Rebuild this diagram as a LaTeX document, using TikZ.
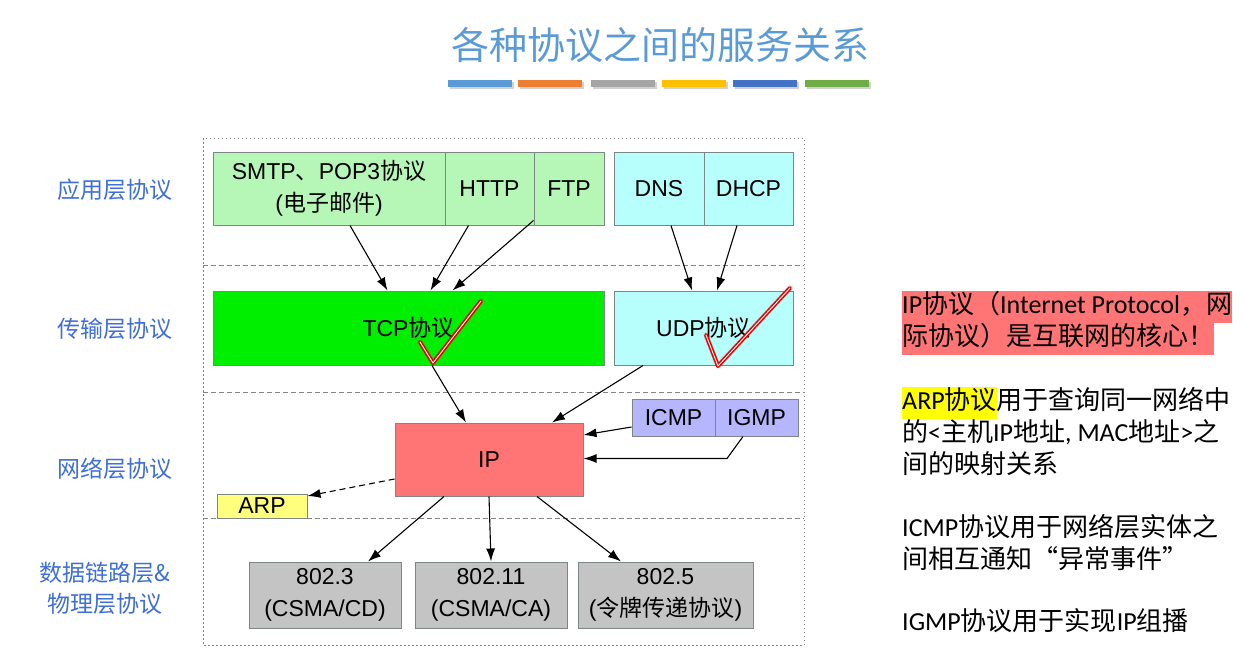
\documentclass[tikz,border=0pt]{standalone}
\usepackage{fontspec}
\setmainfont{Liberation Sans}
\newfontfamily\cjk{Noto Sans CJK SC}
\newfontfamily\notefont{Carlito}
\usetikzlibrary{arrows.meta}
\definecolor{titleblue}{RGB}{91,155,213}
\definecolor{layerblue}{RGB}{62,110,214}
\definecolor{appgreen}{RGB}{182,246,182}
\definecolor{tcpgreen}{RGB}{0,238,0}
\definecolor{udpcyan}{RGB}{182,255,252}
\definecolor{ipred}{RGB}{255,117,117}
\definecolor{icmpblue}{RGB}{182,182,255}
\definecolor{arpyellow}{RGB}{255,255,125}
\definecolor{linkgray}{RGB}{196,196,196}
\definecolor{edgegray}{RGB}{125,135,135}
\definecolor{framegray}{RGB}{130,130,130}
\definecolor{hlyellow}{RGB}{255,255,0}
\definecolor{barA}{RGB}{91,155,213}
\definecolor{barB}{RGB}{237,125,49}
\definecolor{barC}{RGB}{165,165,165}
\definecolor{barD}{RGB}{255,192,0}
\definecolor{barE}{RGB}{68,114,196}
\definecolor{barF}{RGB}{112,173,71}
\setlength{\fboxsep}{0pt}
\newcommand{\zh}[1]{{\cjk #1}}
\tikzset{protobox/.style={draw=edgegray,line width=1pt,inner sep=0pt,align=center,font=\fontsize{23}{32}\selectfont}}

\begin{document}
\begin{tikzpicture}[x=1pt,y=-1pt,>={Latex[length=13pt,width=9pt]},
    flow/.style={->,line width=1.1pt},
    layerlabel/.style={text=layerblue,align=center,font=\cjk\fontsize{23}{31}\selectfont},
    note/.style={inner sep=0pt,align=left,anchor=north west,font=\notefont\fontsize{26}{32}\selectfont},
    tick/.style={draw=red!90!black,double=white,double distance=0.9pt,line width=1.5pt,line cap=round,line join=round}]
    \useasboundingbox (0,0) rectangle (1245,654);

    % title and colour bars
    \node[text=titleblue,font=\cjk\fontsize{38}{44}\selectfont] (title) at (660,45) {各种协议之间的服务关系};
    \foreach \x/\c in {448/barA,518/barB,591/barC,662/barD,733/barE,805/barF} {
      \fill[black!18] (\x+1.5,82) rectangle ++(64,7);
      \fill[\c] (\x,80) rectangle ++(64,7);
    }

    % layer frame
    \draw[framegray,line width=1pt,dash pattern=on 1.5pt off 2.5pt] (203,138) rectangle (804,645);
    \foreach \y in {265,392,518}
      \draw[framegray,line width=1pt,dash pattern=on 5pt off 3pt] (203,\y) -- (804,\y);

    \node[layerlabel] (lapp) at (115,190) {应用层协议};
    \node[layerlabel] (ltrans) at (115,329) {传输层协议};
    \node[layerlabel] (lnet) at (115,469) {网络层协议};
    \node[layerlabel] (llink) at (105,588) {数据链路层\&\\物理层协议};

    % application layer
    \node[protobox,fill=appgreen,minimum width=232pt,minimum height=73pt] (smtp) at (329,188.5) {SMTP\zh{、}POP3\zh{协议}\\(\zh{电子邮件})};
    \node[protobox,fill=appgreen,minimum width=89pt,minimum height=73pt] (http) at (489.5,188.5) {HTTP};
    \node[protobox,fill=appgreen,minimum width=70pt,minimum height=73pt] (ftp) at (569,188.5) {FTP};
    \node[protobox,fill=udpcyan,minimum width=90pt,minimum height=73pt] (dns) at (659,188.5) {DNS};
    \node[protobox,fill=udpcyan,minimum width=89pt,minimum height=73pt] (dhcp) at (748.5,188.5) {DHCP};

    % transport layer
    \node[protobox,fill=tcpgreen,minimum width=391pt,minimum height=74pt] (tcp) at (408.5,328) {TCP\zh{协议}};
    \node[protobox,fill=udpcyan,minimum width=179pt,minimum height=74pt] (udp) at (703.5,328) {UDP\zh{协议}};

    % network layer
    \node[protobox,fill=ipred,minimum width=188pt,minimum height=73pt] (ip) at (489,459.5) {IP};
    \node[protobox,fill=icmpblue,minimum width=83pt,minimum height=37pt] (icmp) at (673.5,417.5) {ICMP};
    \node[protobox,fill=icmpblue,minimum width=83pt,minimum height=37pt] (igmp) at (756.5,417.5) {IGMP};
    \node[protobox,fill=arpyellow,minimum width=90pt,minimum height=24pt] (arp) at (262,506) {ARP};

    % link layer
    \node[protobox,fill=linkgray,minimum width=152pt,minimum height=66pt] (l1) at (325,595) {802.3\\(CSMA/CD)};
    \node[protobox,fill=linkgray,minimum width=152pt,minimum height=66pt] (l2) at (491,595) {802.11\\(CSMA/CA)};
    \node[protobox,fill=linkgray,minimum width=175pt,minimum height=66pt] (l3) at (665.5,595) {802.5\\(\zh{令牌传递协议})};

    \draw[flow] ([xshift=21pt]smtp.south) -- ([xshift=-21pt]tcp.north);
    \draw[flow] ([xshift=-21pt]http.south) -- ([xshift=22pt]tcp.north);
    \draw[flow] ([yshift=5pt]ftp.south west) -- ([xshift=44pt]tcp.north);
    \draw[flow] ([xshift=12pt]dns.south) -- ([xshift=-11.5pt]udp.north);
    \draw[flow] ([xshift=-11.5pt]dhcp.south) -- ([xshift=13.5pt]udp.north);
    \draw[flow] ([xshift=23.5pt]tcp.south) -- ([xshift=-23pt]ip.north);
    \draw[flow] ([xshift=-60.5pt]udp.south) -- ([xshift=63pt]ip.north);
    \draw[flow] ([yshift=-9.5pt]icmp.west) -- ([yshift=24.5pt]ip.east);
    \draw[flow] ([xshift=-13.5pt]igmp.south) -- ++(-16,22) coordinate (igmpbend) -- (igmpbend -| ip.east);
    \draw[flow,dash pattern=on 6pt off 4pt] ([yshift=-19.5pt]ip.west) -- ([yshift=10pt]arp.east);
    \draw[flow] ([xshift=-45pt]ip.south) -- ([xshift=43pt]l1.north);
    \draw[flow] (ip.south) -- (l2.north);
    \draw[flow] ([xshift=48pt]ip.south) -- ([xshift=-44.5pt]l3.north);

    % hand-drawn ticks
    \draw[red,opacity=0.25,line width=5pt,line cap=round,line join=round] (420,342) -- (433,363) -- (481,301);
    \draw[tick] (420,342) -- (433,363) -- (481,301);
    \draw[red,opacity=0.25,line width=5pt,line cap=round,line join=round] (706,335) -- (718,366) -- (790,288);
    \draw[tick] (706,335) -- (718,366) -- (790,288);

    % notes on the right
    \node[note] (ipnote) at (902,291) {\colorbox{ipred}{\strut IP\zh{协议（}Internet Protocol\zh{，网}}\\\colorbox{ipred}{\strut\zh{际协议）是互联网的核心！}}};
    \node[note] (arpnote) at (902,387) {\colorbox{hlyellow}{\strut ARP\zh{协议}}\zh{用于查询同一网络中}\\\strut\zh{的}<\zh{主机}IP\zh{地址}, MAC\zh{地址}>\zh{之}\\\strut\zh{间的映射关系}};
    \node[note] (icmpnote) at (902,514) {\strut ICMP\zh{协议用于网络层实体之}\\\strut\zh{间相互通知“异常事件”}};
    \node[note] (igmpnote) at (902,608) {\strut IGMP\zh{协议用于实现}IP\zh{组播}};
  \end{tikzpicture}
\end{document}
